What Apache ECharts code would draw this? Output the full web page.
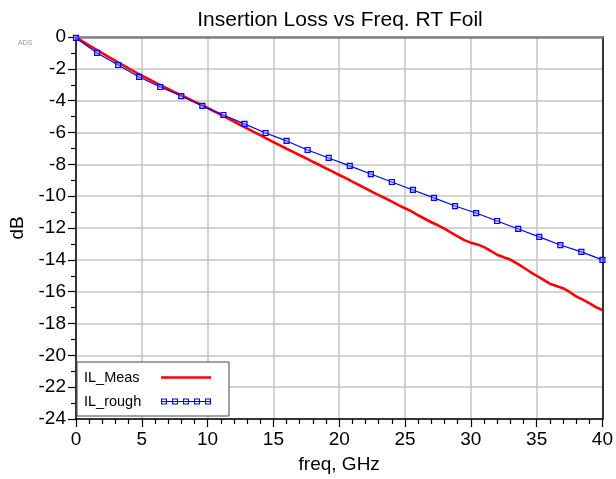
<!DOCTYPE html>
<html>
<head>
<meta charset="utf-8">
<script src="https://cdn.jsdelivr.net/npm/echarts@6/dist/echarts.min.js"></script>
<style>html,body{margin:0;padding:0;background:#fff;}#c{width:616px;height:479px;}</style>
</head>
<body>
<div id="c"></div>
<script>
var titleText = 'Insertion Loss vs Freq. RT Foil';
var xName = 'freq, GHz';
var yName = 'dB';
var seriesNames = ['IL_Meas', 'IL_rough'];

var measFreq = [0,0.5,1,1.5,2,2.5,3,3.5,4,4.5,5,5.5,6,6.5,7,7.5,8,8.5,9,9.5,10,10.5,11,11.5,12,12.5,13,13.5,14,14.5,15,15.5,16,16.5,17,17.5,18,18.5,19,19.5,20,20.5,21,21.5,22,22.5,23,23.5,24,24.5,25,25.5,26,26.5,27,27.5,28,28.5,29,29.5,30,30.5,31,31.5,32,32.5,33,33.5,34,34.5,35,35.5,36,36.5,37,37.5,38,38.5,39,39.5,40];
var measDb = [-0.02,-0.27,-0.52,-0.77,-1.02,-1.26,-1.50,-1.74,-1.97,-2.20,-2.43,-2.64,-2.85,-3.06,-3.26,-3.46,-3.66,-3.86,-4.06,-4.25,-4.45,-4.67,-4.88,-5.10,-5.31,-5.53,-5.74,-5.96,-6.17,-6.39,-6.60,-6.81,-7.02,-7.22,-7.43,-7.63,-7.84,-8.04,-8.25,-8.46,-8.67,-8.87,-9.09,-9.30,-9.51,-9.73,-9.93,-10.13,-10.34,-10.56,-10.76,-10.96,-11.20,-11.42,-11.64,-11.83,-12.04,-12.29,-12.52,-12.76,-12.92,-13.03,-13.20,-13.43,-13.68,-13.84,-13.98,-14.22,-14.48,-14.75,-15.00,-15.24,-15.50,-15.65,-15.78,-16.02,-16.30,-16.50,-16.72,-16.97,-17.15];

var roughFreq = [0,1.6,3.2,4.8,6.4,8,9.6,11.2,12.8,14.4,16,17.6,19.2,20.8,22.4,24,25.6,27.2,28.8,30.4,32,33.6,35.2,36.8,38.4,40];
var roughDb = [-0.06,-1.0,-1.76,-2.51,-3.14,-3.71,-4.33,-4.90,-5.46,-6.03,-6.53,-7.10,-7.60,-8.10,-8.61,-9.11,-9.61,-10.11,-10.62,-11.06,-11.56,-12.06,-12.56,-13.07,-13.50,-14.0];

var xTicks = {min: 0, max: 40, step: 5};
var yTicks = {min: -24, max: 0, step: 2};

function pairs(xs, ys) { return xs.map(function (x, i) { return [x, ys[i]]; }); }

var FONT = '"Liberation Sans", Arial, sans-serif';
var roughIcon = 'path://';
(function () {
  var p = '';
  var xs = [0, 11, 22, 33, 44];
  xs.forEach(function (x0, i) {
    p += 'M' + x0 + ' 0L' + (x0 + 6) + ' 0L' + (x0 + 6) + ' 6L' + x0 + ' 6Z';
    p += 'M' + (x0 + 1.1) + ' 1.1L' + (x0 + 1.1) + ' 4.9L' + (x0 + 4.9) + ' 4.9L' + (x0 + 4.9) + ' 1.1Z';
    p += 'M' + (x0 + 1.1) + ' 2.6L' + (x0 + 4.9) + ' 2.6L' + (x0 + 4.9) + ' 3.4L' + (x0 + 1.1) + ' 3.4Z';
    if (i < xs.length - 1) {
      var x1 = xs[i + 1];
      p += 'M' + (x0 + 6) + ' 2.5L' + x1 + ' 2.5L' + x1 + ' 3.5L' + (x0 + 6) + ' 3.5Z';
    }
  });
  roughIcon += p;
})();

var chart = echarts.init(document.getElementById('c'), null, {renderer: 'canvas'});
chart.setOption({
  backgroundColor: '#ffffff',
  animation: false,
  textStyle: {fontFamily: FONT},
  title: {
    text: titleText, left: 335, top: 5, textAlign: 'center',
    textStyle: {fontFamily: FONT, fontSize: 21, fontWeight: 'normal', color: '#000'}
  },
  graphic: [{type: 'text', left: 18, top: 40, style: {text: 'ADS', fontSize: 7, fill: '#999', fontFamily: FONT}}],
  grid: {left: 76, right: 13, top: 37, bottom: 60, containLabel: false},
  legend: {
    orient: 'vertical', left: 77, top: 362, align: 'right',
    backgroundColor: '#fff', borderColor: '#444', borderWidth: 1,
    padding: [8, 18, 7, 7], itemGap: 9, itemWidth: 50, itemHeight: 6,
    formatter: function (n) { return '{a|' + n + '}'; },
    textStyle: {fontFamily: FONT, fontSize: 14.5, color: '#000',
      rich: {a: {width: 72, align: 'left', fontSize: 14.5, fontFamily: FONT, color: '#000'}}},
    data: [
      {name: seriesNames[0], icon: 'path://M0 1.8L50 1.8L50 4.2L0 4.2Z', itemStyle: {color: '#ff0000', borderWidth: 0}},
      {name: seriesNames[1], icon: roughIcon, itemStyle: {color: '#0000ff', borderWidth: 0}}
    ]
  },
  xAxis: [{
    type: 'value', min: xTicks.min, max: xTicks.max, interval: xTicks.step,
    name: xName, nameLocation: 'middle', nameGap: 36,
    nameTextStyle: {fontFamily: FONT, fontSize: 19, color: '#000'},
    axisLine: {onZero: false, lineStyle: {color: '#000', width: 1.5}},
    axisTick: {show: true, inside: false, length: 8, lineStyle: {color: '#000', width: 1.2}},
    minorTick: {show: true, splitNumber: 5, length: 5, lineStyle: {color: '#000', width: 1.2}},
    axisLabel: {fontFamily: FONT, fontSize: 19, color: '#000', margin: 11},
    splitLine: {show: true, lineStyle: {color: '#c4c4c4', width: 1.5}}
  }, {
    type: 'value', position: 'top', min: xTicks.min, max: xTicks.max,
    axisLine: {show: true, onZero: false, lineStyle: {color: '#808080', width: 2.5}},
    axisTick: {show: false}, axisLabel: {show: false}, splitLine: {show: false}
  }],
  yAxis: [{
    type: 'value', min: yTicks.min, max: yTicks.max, interval: yTicks.step,
    name: yName, nameLocation: 'middle', nameGap: 49,
    nameTextStyle: {fontFamily: FONT, fontSize: 19, color: '#000'},
    axisLine: {onZero: false, lineStyle: {color: '#000', width: 1.5}},
    axisTick: {show: true, inside: false, length: 8, lineStyle: {color: '#000', width: 1.2}},
    minorTick: {show: true, splitNumber: 2, length: 5, lineStyle: {color: '#000', width: 1.2}},
    axisLabel: {fontFamily: FONT, fontSize: 19, color: '#000', margin: 10},
    splitLine: {show: true, lineStyle: {color: '#c4c4c4', width: 1.5}}
  }, {
    type: 'value', position: 'right', min: yTicks.min, max: yTicks.max,
    axisLine: {show: true, onZero: false, lineStyle: {color: '#333', width: 2}},
    axisTick: {show: false}, axisLabel: {show: false}, splitLine: {show: false}
  }],
  series: [{
    name: seriesNames[0], type: 'line', data: pairs(measFreq, measDb),
    showSymbol: false, symbol: 'none', smooth: false,
    lineStyle: {color: '#ff0000', width: 2.6}, itemStyle: {color: '#ff0000'}, z: 3
  }, {
    name: seriesNames[1], type: 'line', data: pairs(roughFreq, roughDb),
    symbol: 'rect', symbolSize: 5,
    lineStyle: {color: '#0000ff', width: 1.2},
    itemStyle: {color: 'rgba(150,150,255,0.5)', borderColor: '#0000ff', borderWidth: 1.2}, z: 4
  }]
});
</script>
</body>
</html>
